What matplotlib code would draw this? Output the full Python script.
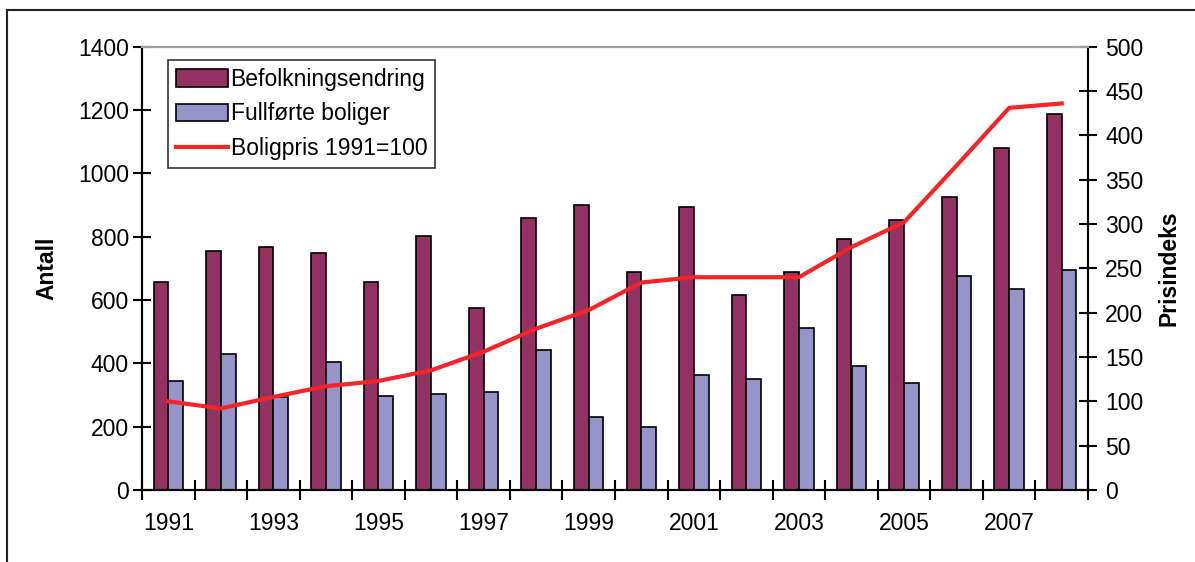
import matplotlib
matplotlib.use("Agg")
import matplotlib.pyplot as plt
from matplotlib.lines import Line2D
import numpy as np

years = list(range(1991, 2009))
befolkning = [657, 756, 767, 750, 658, 803, 574, 858, 899, 688, 894, 616, 688, 792, 852, 925, 1080, 1189]
boliger = [344, 430, 295, 405, 296, 302, 309, 441, 230, 200, 362, 351, 513, 393, 338, 676, 634, 694]
boligpris = [100, 92, 105, 117, 123, 135, 156, 182, 203, 234, 240, 240, 240, 274, 302, 366, 431, 436]
xlabels = [str(y) if (y - 1991) % 2 == 0 else "" for y in years]

plt.rcParams['font.family'] = ['Liberation Sans', 'DejaVu Sans']

FS = 16.5
fig = plt.figure(figsize=(11.95, 5.62), dpi=100)
ax = fig.add_axes([142/1195, 72/562, 946/1195, 443.3/562])
ax2 = ax.twinx()

x = np.arange(len(years))
w = 0.28
maroon = '#933162'
blue = '#9695c9'
ax.bar(x - w/2, befolkning, w, color=maroon, edgecolor='black', linewidth=1.2, label='Befolkningsendring', zorder=2)
ax.bar(x + w/2, boliger, w, color=blue, edgecolor='black', linewidth=1.2, label='Fullførte boliger', zorder=2)
ax2.plot(x, boligpris, color='#f42428', linewidth=3, label='Boligpris 1991=100', zorder=3)

ax.set_xlim(-0.5, len(years) - 0.5)
ax.set_ylim(0, 1400)
ax2.set_ylim(0, 500)
ax.set_yticks(np.arange(0, 1401, 200))
ax2.set_yticks(np.arange(0, 501, 50))

ax.set_xticks(x)
ax.set_xticklabels(xlabels)
ax.set_xticks(np.arange(-0.5, len(years), 1), minor=True)
ax.tick_params(axis='x', which='major', length=0, pad=16, labelsize=FS)
ax.tick_params(axis='x', which='minor', direction='inout', length=14, width=1.5)
ax.tick_params(axis='y', direction='inout', length=13, width=1.5, labelsize=FS, pad=3)
ax2.tick_params(axis='y', direction='inout', length=13, width=1.5, labelsize=FS, pad=6)

for a in (ax, ax2):
    for s in ('left', 'right', 'bottom'):
        a.spines[s].set_linewidth(1.5)
        a.spines[s].set_color('black')
    a.spines['top'].set_color('#a0a0a0')
    a.spines['top'].set_linewidth(1.5)

ax.set_ylabel('Antall', fontsize=FS, fontweight='bold', labelpad=14)
ax2.set_ylabel('Prisindeks', fontsize=FS, fontweight='bold', labelpad=10)

handles = [plt.Rectangle((0, 0), 1, 1, facecolor=maroon, edgecolor='black', linewidth=1.2),
           plt.Rectangle((0, 0), 1, 1, facecolor=blue, edgecolor='black', linewidth=1.2),
           Line2D([0], [0], color='#f42428', linewidth=3)]
labels = ['Befolkningsendring', 'Fullførte boliger', 'Boligpris 1991=100']
leg = ax.legend(handles, labels, loc='upper left', bbox_to_anchor=(0.027, 0.97),
                borderaxespad=0, fontsize=FS, frameon=True, fancybox=False,
                edgecolor='black', handlelength=2.3, handleheight=0.8,
                handletextpad=0.1, labelspacing=0.5, borderpad=0.35)
leg.get_frame().set_linewidth(1.2)
leg.set_zorder(5)

# outer frame (partially cut off)
fig.add_artist(Line2D([7/1195, 7/1195], [0, 1 - 10/562], transform=fig.transFigure, color='#222222', linewidth=1.5))
fig.add_artist(Line2D([7/1195, 1], [1 - 10/562, 1 - 10/562], transform=fig.transFigure, color='#222222', linewidth=1.5))

fig.savefig('out.png', dpi=100)
